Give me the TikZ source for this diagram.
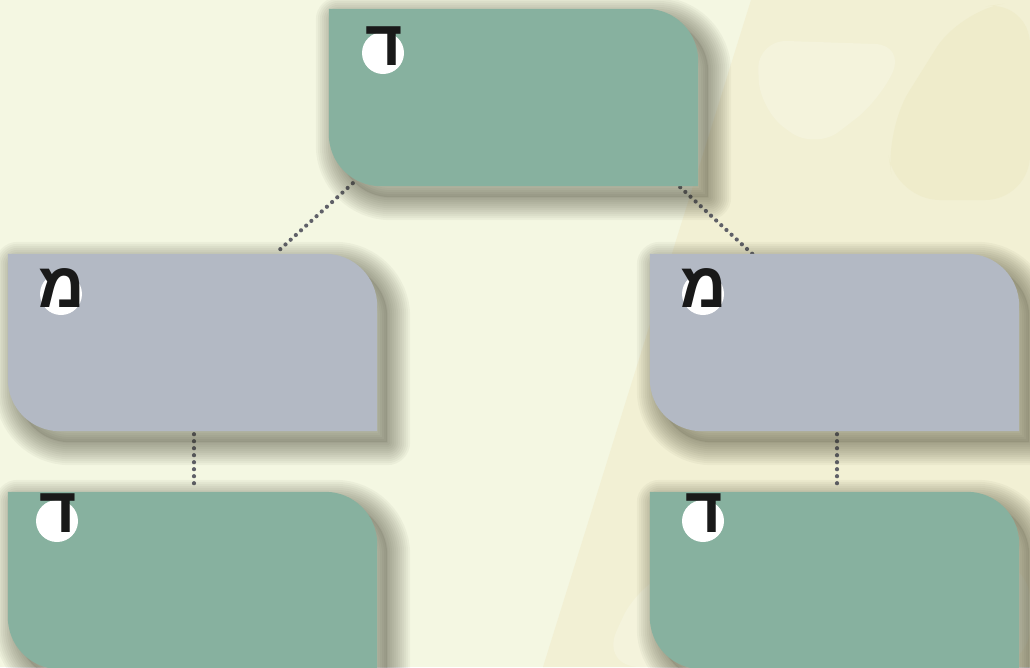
\documentclass[tikz,border=0pt]{standalone}
\usepackage{fontspec}
\newfontfamily\hebfont[Script=Hebrew]{Liberation Sans}
\TeXXeTstate=1
\definecolor{bgA}{HTML}{F4F7E2}
\definecolor{bgB}{HTML}{F2F0D4}
\definecolor{bgC}{HTML}{EFECCB}
\definecolor{bgD}{HTML}{F4F3DC}
\definecolor{boxgreen}{HTML}{87B19F}
\definecolor{boxgray}{HTML}{B3B9C4}
\definecolor{dotc}{HTML}{5F6068}
\definecolor{shadowc}{HTML}{3A3A28}
\tikzset{
  boxnode/.style={rectangle,minimum width=369pt,minimum height=177pt,inner sep=0pt,draw=none},
  badge/.style={circle,fill=white,minimum size=42pt,inner sep=0pt},
  letter/.style={inner sep=0pt,font=\hebfont\bfseries\fontsize{64}{64}\selectfont,text=black!90},
  dotline/.style={draw=dotc,line width=4.2pt,line cap=round,dash pattern=on 0pt off 7pt}
}
\newcommand\tabpath[1]{(#1.north west) -- ([xshift=-52pt]#1.north east)
    arc[start angle=90,end angle=0,radius=52pt] -- (#1.south east)
    -- ([xshift=52pt]#1.south west) arc[start angle=270,end angle=180,radius=52pt] -- cycle}
\newcommand\tabshape[2]{%
  \begin{scope}[transform canvas={shift={(10pt,-11pt)}}]
    \foreach \w in {46,42,38,34,30,26,22,18,14,10,6,2}{
      \draw[shadowc,draw opacity=0.045,line width=\w pt,line join=round] \tabpath{#1};}
    \fill[shadowc,opacity=0.12] \tabpath{#1};
  \end{scope}
  \fill[#2] \tabpath{#1};}
\begin{document}
\begin{tikzpicture}[x=1pt,y=1pt]
\useasboundingbox (0,0) rectangle (1030,-667);
\fill[bgA] (0,0) rectangle (1030,-667);
% background blobs
\fill[bgB] (543,-667) -- (751,0) -- (1030,0) -- (1030,-667) -- cycle;
\fill[bgC,rounded corners=45pt] (895,-200) -- (885,-130) -- (960,-10) -- (1030,0) -- (1030,-200) -- cycle;
\fill[bgD,rounded corners=30pt] (757,-40) -- (905,-45) -- (880,-100) -- (815,-150) -- (760,-110) -- cycle;
\fill[bgD,rounded corners=40pt] (600,-667) -- (640,-580) -- (700,-560) -- (1030,-560) -- (1030,-667) -- cycle;
% nodes
\node[boxnode] (top) at (513.5,-97.5) {};
\node[boxnode] (ml) at (192.5,-342.5) {};
\node[boxnode] (mr) at (834.5,-342.5) {};
\node[boxnode] (bl) at (192.5,-580.5) {};
\node[boxnode] (br) at (834.5,-580.5) {};
% connectors
\draw[dotline] ([xshift=24pt,yshift=3pt]top.south west) -- ([xshift=-102pt]ml.north east);
\draw[dotline] ([xshift=-18pt,yshift=-1pt]top.south east) -- ([xshift=-267pt]mr.north east);
\draw[dotline] ([xshift=1.5pt,yshift=-3pt]ml.south) -- ([xshift=1.5pt,yshift=4pt]bl.north);
\draw[dotline] ([xshift=2.5pt,yshift=-3pt]mr.south) -- ([xshift=2.5pt,yshift=4pt]br.north);
% boxes
\tabshape{top}{boxgreen}
\tabshape{ml}{boxgray}
\tabshape{mr}{boxgray}
\tabshape{bl}{boxgreen}
\tabshape{br}{boxgreen}
% badges
\node[badge] (c1) at (383,-53) {};
\node[badge] (c2) at (61,-294) {};
\node[badge] (c3) at (703,-294) {};
\node[badge] (c4) at (57,-521) {};
\node[badge] (c5) at (703,-521) {};
\node[letter] (l1) at (384,-46) {\beginR ד\endR};
\node[letter] (l2) at (62,-288) {\beginR מ\endR};
\node[letter] (l3) at (704,-288) {\beginR מ\endR};
\node[letter] (l4) at (58,-513) {\beginR ד\endR};
\node[letter] (l5) at (704,-513) {\beginR ד\endR};
\end{tikzpicture}
\end{document}
